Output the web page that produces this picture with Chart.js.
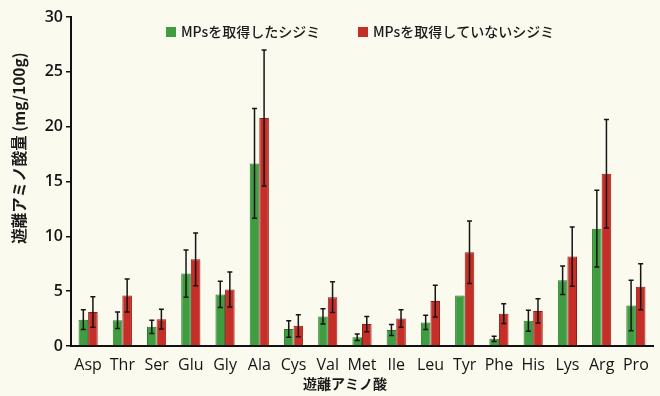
<!DOCTYPE html>
<html>
<head>
<meta charset="utf-8">
<script src="https://cdn.jsdelivr.net/npm/chart.js@4/dist/chart.umd.min.js"></script>
<style>
  html, body { margin: 0; padding: 0; background: #fbfaee; }
  #wrap { width: 660px; height: 396px; position: relative; }
</style>
</head>
<body>
<div id="wrap"><canvas id="c" width="660" height="396"></canvas></div>
<script>
// Free amino acids (mg/100g) in clams with / without ingested MPs
const categories = ['Asp','Thr','Ser','Glu','Gly','Ala','Cys','Val','Met','Ile','Leu','Tyr','Phe','His','Lys','Arg','Pro'];
const withMPs      = [2.4, 2.35, 1.75, 6.6, 4.7, 16.65, 1.55, 2.7, 0.8, 1.45, 2.15, 4.6, 0.65, 2.3, 6.0, 10.7, 3.7];
const withMPsErr   = [0.9, 0.75, 0.6, 2.15, 1.2, 5.0, 0.75, 0.7, 0.3, 0.5, 0.65, null, 0.25, 0.95, 1.3, 3.5, 2.3];
const withoutMPs    = [3.1, 4.6, 2.45, 7.9, 5.15, 20.8, 1.85, 4.45, 2.0, 2.5, 4.1, 8.55, 2.95, 3.2, 8.15, 15.7, 5.4];
const withoutMPsErr = [1.4, 1.5, 0.9, 2.4, 1.6, 6.2, 1.0, 1.4, 0.7, 0.8, 1.45, 2.85, 0.9, 1.1, 2.7, 4.95, 2.1];
const seriesNames = ['MPsを取得したシジミ', 'MPsを取得していないシジミ'];
const yTicks = [0, 5, 10, 15, 20, 25, 30];
const xTitle = '遊離アミノ酸';
const yTitle = '遊離アミノ酸量 (mg/100g)';

const GREEN = '#3f9c40', GREEN_EDGE = '#2a7a2c';
const RED = '#c62e28', RED_EDGE = '#951a16';
const CJK = '"Noto Sans CJK JP", "Noto Sans", sans-serif';
const errors = [withMPsErr, withoutMPsErr];

// error bars drawn from each bar element and the y scale
const errorBars = {
  id: 'errorBars',
  afterDatasetsDraw(chart) {
    const ctx = chart.ctx, y = chart.scales.y;
    ctx.save();
    ctx.strokeStyle = '#151515';
    ctx.lineWidth = 1.5;
    chart.data.datasets.forEach((ds, di) => {
      const meta = chart.getDatasetMeta(di);
      meta.data.forEach((bar, i) => {
        const e = errors[di][i];
        if (e == null) return;
        const v = ds.data[i];
        const yt = y.getPixelForValue(v + e), yb = y.getPixelForValue(Math.max(0, v - e));
        const x = bar.x, cap = 2.5;
        ctx.beginPath();
        ctx.moveTo(x, yt); ctx.lineTo(x, yb);
        ctx.moveTo(x - cap, yt); ctx.lineTo(x + cap, yt);
        ctx.moveTo(x - cap, yb); ctx.lineTo(x + cap, yb);
        ctx.stroke();
      });
    });
    ctx.restore();
  }
};

// legend row and axis titles
const annotations = {
  id: 'annotations',
  afterDraw(chart) {
    const ctx = chart.ctx;
    ctx.save();
    ctx.textBaseline = 'middle';
    ctx.font = '500 14px ' + CJK;
    const items = [
      { x: 166, fill: GREEN, text: seriesNames[0] },
      { x: 358, fill: RED, text: seriesNames[1] }
    ];
    items.forEach(it => {
      ctx.fillStyle = it.fill;
      ctx.fillRect(it.x, 27, 10, 10);
      ctx.fillStyle = '#1a1a1a';
      ctx.textAlign = 'left';
      ctx.fillText(it.text, it.x + 15, 32);
    });
    ctx.fillStyle = '#1a1a1a';
    // x title
    ctx.font = 'bold 14px ' + CJK;
    ctx.textAlign = 'center';
    ctx.fillText(xTitle, 345, 384);
    // y title
    ctx.translate(19, 148);
    ctx.rotate(-Math.PI / 2);
    ctx.font = 'bold 15.5px ' + CJK;
    ctx.fillText(yTitle, 0, 0);
    ctx.restore();
  }
};

const canvasBg = {
  id: 'canvasBg',
  beforeDraw(chart) {
    const ctx = chart.ctx;
    ctx.save();
    ctx.fillStyle = '#fbfaee';
    ctx.fillRect(0, 0, chart.width, chart.height);
    ctx.restore();
  }
};

new Chart(document.getElementById('c'), {
  type: 'bar',
  data: {
    labels: categories,
    datasets: [
      { label: seriesNames[0], data: withMPs, backgroundColor: GREEN, borderColor: GREEN_EDGE, borderWidth: 1 },
      { label: seriesNames[1], data: withoutMPs, backgroundColor: RED, borderColor: RED_EDGE, borderWidth: 1 }
    ]
  },
  options: {
    responsive: false,
    animation: false,
    layout: { padding: { left: 0, right: 7, top: 17, bottom: 0 } },
    datasets: { bar: { barPercentage: 1.0, categoryPercentage: 0.56 } },
    plugins: { legend: { display: false }, tooltip: { enabled: false } },
    scales: {
      x: {
        grid: { display: false },
        border: { display: true, color: '#111', width: 2 },
        ticks: {
          color: '#151515', font: { family: '"Open Sans", sans-serif', size: 16, weight: '500' },
          padding: 2, maxRotation: 0, minRotation: 0, autoSkip: false
        },
        afterFit(scale) { scale.height = 50; }
      },
      y: {
        min: 0, max: 30,
        afterBuildTicks(scale) { scale.ticks = yTicks.map(v => ({ value: v })); },
        grid: { drawOnChartArea: false, drawTicks: true, tickLength: 5, color: '#111', lineWidth: 1.5 },
        border: { display: true, color: '#111', width: 2 },
        ticks: { color: '#151515', font: { family: '"Open Sans", sans-serif', size: 16, weight: '600' }, padding: 3 },
        afterFit(scale) { scale.width = 71; }
      }
    }
  },
  plugins: [canvasBg, errorBars, annotations]
});
</script>
</body>
</html>
